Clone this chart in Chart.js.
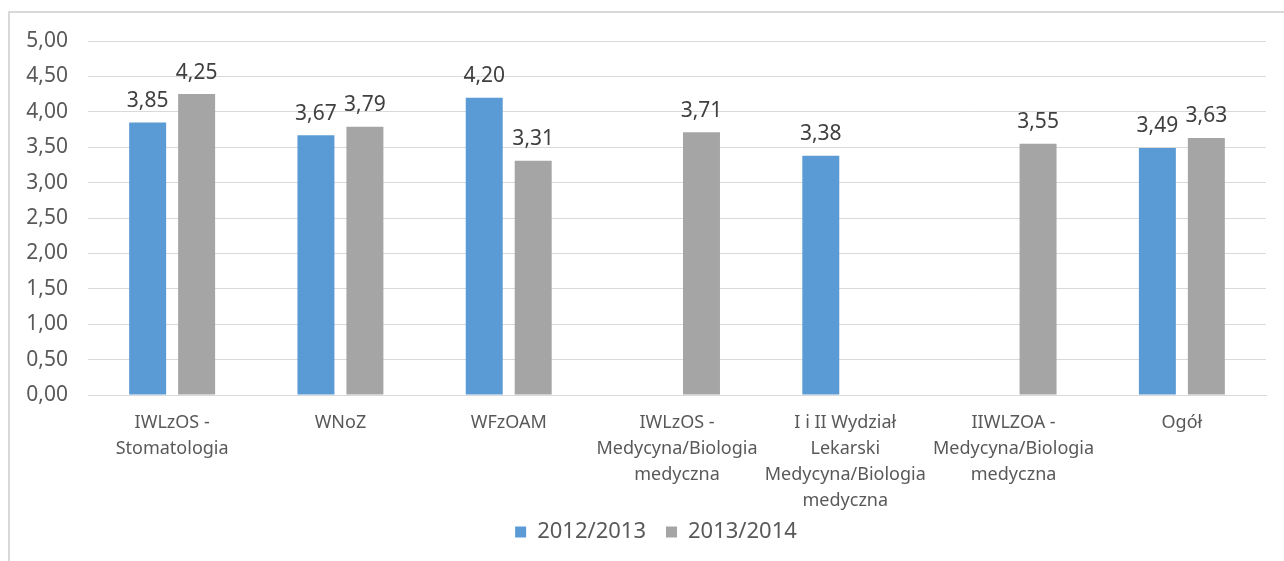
<!DOCTYPE html>
<html>
<head>
<meta charset="utf-8">
<script src="https://cdn.jsdelivr.net/npm/chart.js@4"></script>
<style>
  html, body { margin: 0; padding: 0; background: #fff; }
  #frame { position: absolute; left: 8px; top: 11px; width: 1300px; height: 600px; border: 2px solid #d9d9d9; }
  #wrap { position: absolute; left: 0; top: 0; width: 1284px; height: 561px; }
</style>
</head>
<body>
<div id="frame"></div>
<div id="wrap"><canvas id="chart"></canvas></div>
<script>
// dane z wykresu
const categories = [
  ['IWLzOS -', 'Stomatologia'],
  'WNoZ',
  'WFzOAM',
  ['IWLzOS -', 'Medycyna/Biologia', 'medyczna'],
  ['I i II Wydział', 'Lekarski', 'Medycyna/Biologia', 'medyczna'],
  ['IIWLZOA -', 'Medycyna/Biologia', 'medyczna'],
  'Ogół'
];
const series2012 = [3.85, 3.67, 4.20, null, 3.38, null, 3.49];
const series2013 = [4.25, 3.79, 3.31, 3.71, null, 3.55, 3.63];
const yTicks = [0, 0.5, 1, 1.5, 2, 2.5, 3, 3.5, 4, 4.5, 5];

const FONT = "'Noto Sans', sans-serif";
const fmt = v => v.toFixed(2).replace('.', ',');

// etykiety wartości nad słupkami
const valueLabels = {
  id: 'valueLabels',
  afterDatasetsDraw(chart) {
    const ctx = chart.ctx;
    ctx.save();
    ctx.font = '21px ' + FONT;
    ctx.fillStyle = '#404040';
    ctx.textAlign = 'center';
    ctx.textBaseline = 'bottom';
    chart.data.datasets.forEach((ds, i) => {
      chart.getDatasetMeta(i).data.forEach((bar, j) => {
        const v = ds.data[j];
        if (v == null) return;
        ctx.fillText(fmt(v), bar.x, bar.y - 11);
      });
    });
    ctx.restore();
  }
};

// legenda w oryginale jest lekko w prawo i wyżej
const legendShift = {
  id: 'legendShift',
  afterLayout(chart) {
    const lg = chart.legend;
    if (!lg) return;
    lg.left += 23;
    lg.right += 23;
    lg.top -= 18;
    lg.bottom -= 18;
  }
};

new Chart(document.getElementById('chart'), {
  type: 'bar',
  data: {
    labels: categories,
    datasets: [
      { label: '2012/2013', data: series2012, backgroundColor: '#5b9bd5' },
      { label: '2013/2014', data: series2013, backgroundColor: '#a5a5a5' }
    ]
  },
  options: {
    responsive: true,
    maintainAspectRatio: false,
    animation: false,
    categoryPercentage: 0.582,
    barPercentage: 0.755,
    layout: { padding: { top: 41, right: 18, bottom: -10, left: 0 } },
    plugins: {
      legend: {
        position: 'bottom',
        labels: { boxWidth: 11, boxHeight: 11, padding: 20, color: '#595959', font: { family: FONT, size: 22 } }
      },
      tooltip: { enabled: false }
    },
    scales: {
      x: {
        grid: { display: false },
        border: { color: '#d9d9d9' },
        ticks: { color: '#595959', padding: 7, maxRotation: 0, autoSkip: false, font: { family: FONT, size: 18, lineHeight: 1.45 } },
        afterFit: s => { s.height = 124; }
      },
      y: {
        min: 0, max: 5,
        afterBuildTicks: s => { s.ticks = yTicks.map(v => ({ value: v })); },
        grid: { color: '#d9d9d9', drawTicks: false },
        border: { display: false },
        ticks: { color: '#595959', padding: 20, font: { family: FONT, size: 21 }, callback: v => fmt(v) },
        afterFit: s => { s.width = 88; }
      }
    }
  },
  plugins: [valueLabels, legendShift]
});
</script>
</body>
</html>
